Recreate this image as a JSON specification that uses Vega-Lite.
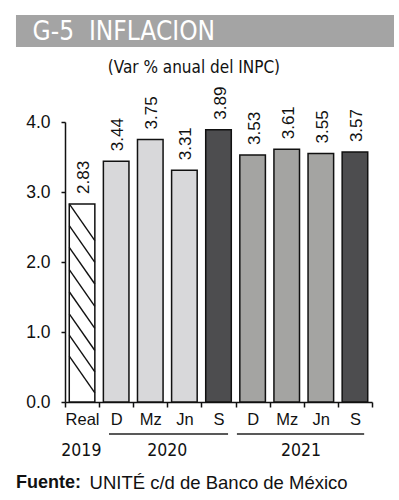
{
  "$schema": "https://vega.github.io/schema/vega-lite/v6.json",
  "width": 307,
  "height": 280,
  "padding": {"left": 15, "top": 14, "right": 5, "bottom": 5},
  "background": "white",
  "config": {"view": {"stroke": null}, "font": "Liberation Sans"},
  "datasets": {
    "bars": [
      {"key": "Real_2019", "value": 2.83, "grp": "real"},
      {"key": "D_2020", "value": 3.44, "grp": "a"},
      {"key": "Mz_2020", "value": 3.75, "grp": "a"},
      {"key": "Jn_2020", "value": 3.31, "grp": "a"},
      {"key": "S_2020", "value": 3.89, "grp": "s"},
      {"key": "D_2021", "value": 3.53, "grp": "b"},
      {"key": "Mz_2021", "value": 3.61, "grp": "b"},
      {"key": "Jn_2021", "value": 3.55, "grp": "b"},
      {"key": "S_2021", "value": 3.57, "grp": "s"}
    ],
    "hatch": [
      {"x0": 0.125, "x1": 0.875, "y0": 2.83, "y1": 2.306},
      {"x0": 0.125, "x1": 0.875, "y0": 2.52, "y1": 1.996},
      {"x0": 0.125, "x1": 0.875, "y0": 2.21, "y1": 1.686},
      {"x0": 0.125, "x1": 0.875, "y0": 1.89, "y1": 1.366},
      {"x0": 0.125, "x1": 0.875, "y0": 1.575, "y1": 1.051},
      {"x0": 0.125, "x1": 0.875, "y0": 1.26, "y1": 0.736},
      {"x0": 0.125, "x1": 0.875, "y0": 0.955, "y1": 0.431},
      {"x0": 0.125, "x1": 0.875, "y0": 0.655, "y1": 0.131}
    ],
    "years": [
      {"yr": "2019", "xc": 0.48},
      {"yr": "2020", "xc": 3.0},
      {"yr": "2021", "xc": 6.92}
    ],
    "yearLines": [
      {"x0": 1.29, "x1": 4.78},
      {"x0": 5.04, "x1": 8.77}
    ]
  },
  "layer": [
    {
      "data": {"name": "bars"},
      "layer": [
        {
          "mark": {"type": "bar", "width": {"band": 0.75}, "stroke": "#111111", "strokeWidth": 1.5},
          "encoding": {
            "x": {
              "field": "key", "type": "nominal", "sort": null,
              "scale": {"paddingInner": 0, "paddingOuter": 0},
              "axis": {
                "title": null, "labelAngle": 0, "tickBand": "extent",
                "labelExpr": "split(datum.label, '_')[0]",
                "domainColor": "#111111", "domainWidth": 1.5,
                "tickColor": "#111111", "tickWidth": 1.5, "tickSize": 5,
                "labelFontSize": 16.5, "labelColor": "#111111", "labelPadding": 4,
                "labelFont": "Liberation Sans"
              }
            },
            "y": {
              "field": "value", "type": "quantitative",
              "scale": {"domain": [0, 4], "nice": false, "zero": false},
              "axis": {
                "title": null, "values": [0, 1, 2, 3, 4], "format": ".1f", "grid": false,
                "domainColor": "#111111", "domainWidth": 1.5,
                "tickColor": "#111111", "tickWidth": 1.5, "tickSize": 4,
                "labelFontSize": 17.5, "labelColor": "#111111", "labelPadding": 11,
                "labelFont": "Liberation Sans"
              }
            },
            "fill": {
              "field": "grp", "type": "nominal", "legend": null,
              "scale": {"domain": ["real", "a", "b", "s"], "range": ["#ffffff", "#d8d8da", "#a4a4a2", "#4d4d4f"]}
            }
          }
        },
        {
          "mark": {"type": "text", "angle": 270, "align": "left", "baseline": "middle", "dx": 10, "dy": 2, "fontSize": 17, "color": "#111111", "font": "Liberation Sans"},
          "encoding": {
            "x": {"field": "key", "type": "nominal", "sort": null},
            "y": {"field": "value", "type": "quantitative"},
            "text": {"field": "value", "type": "quantitative", "format": ".2f"}
          }
        }
      ]
    },
    {
      "layer": [
        {
          "data": {"values": [{}]},
          "mark": {"type": "rect", "color": "#a4a4a4"},
          "encoding": {
            "x": {"datum": -1.437, "type": "quantitative", "scale": {"domain": [0, 9], "nice": false, "zero": false}, "axis": null},
            "x2": {"datum": 9.645},
            "y": {"datum": 5.529, "type": "quantitative", "scale": {"domain": [0, 4], "nice": false, "zero": false}, "axis": null},
            "y2": {"datum": 5.071}
          }
        },
        {
          "data": {"values": [{}]},
          "mark": {"type": "text", "align": "left", "baseline": "middle", "fontSize": 26, "color": "#ffffff", "font": "DejaVu Sans Condensed, sans-serif", "text": "G-5\u00a0\u00a0INFLACION"},
          "encoding": {
            "x": {"datum": -0.95, "type": "quantitative"},
            "y": {"datum": 5.29, "type": "quantitative"}
          }
        },
        {
          "data": {"values": [{}]},
          "mark": {"type": "text", "align": "center", "baseline": "middle", "fontSize": 17, "color": "#111111", "font": "DejaVu Sans Condensed, sans-serif", "text": "(Var % anual del INPC)"},
          "encoding": {
            "x": {"datum": 3.78, "type": "quantitative"},
            "y": {"datum": 4.77, "type": "quantitative"}
          }
        },
        {
          "data": {"name": "hatch"},
          "mark": {"type": "rule", "color": "#111111", "strokeWidth": 1.4},
          "encoding": {
            "x": {"field": "x0", "type": "quantitative"},
            "x2": {"field": "x1"},
            "y": {"field": "y0", "type": "quantitative"},
            "y2": {"field": "y1"}
          }
        },
        {
          "data": {"name": "yearLines"},
          "mark": {"type": "rule", "color": "#222222", "strokeWidth": 1.5},
          "encoding": {
            "x": {"field": "x0", "type": "quantitative"},
            "x2": {"field": "x1"},
            "y": {"datum": -0.457, "type": "quantitative"}
          }
        },
        {
          "data": {"name": "years"},
          "mark": {"type": "text", "align": "center", "baseline": "middle", "fontSize": 17.5, "color": "#111111", "font": "DejaVu Sans Condensed, sans-serif"},
          "encoding": {
            "x": {"field": "xc", "type": "quantitative"},
            "y": {"datum": -0.693, "type": "quantitative"},
            "text": {"field": "yr", "type": "nominal"}
          }
        },
        {
          "data": {"values": [{}]},
          "mark": {"type": "text", "align": "left", "baseline": "middle", "fontSize": 18, "fontWeight": "bold", "color": "#111111", "font": "Liberation Sans", "text": "Fuente:"},
          "encoding": {
            "x": {"datum": -1.437, "type": "quantitative"},
            "y": {"datum": -1.16, "type": "quantitative"}
          }
        },
        {
          "data": {"values": [{}]},
          "mark": {"type": "text", "align": "left", "baseline": "middle", "fontSize": 18.5, "color": "#111111", "font": "Liberation Sans", "text": "UNITÉ c/d de Banco de México"},
          "encoding": {
            "x": {"datum": 0.72, "type": "quantitative"},
            "y": {"datum": -1.16, "type": "quantitative"}
          }
        }
      ]
    }
  ],
  "resolve": {"scale": {"x": "independent", "y": "independent"}}
}
